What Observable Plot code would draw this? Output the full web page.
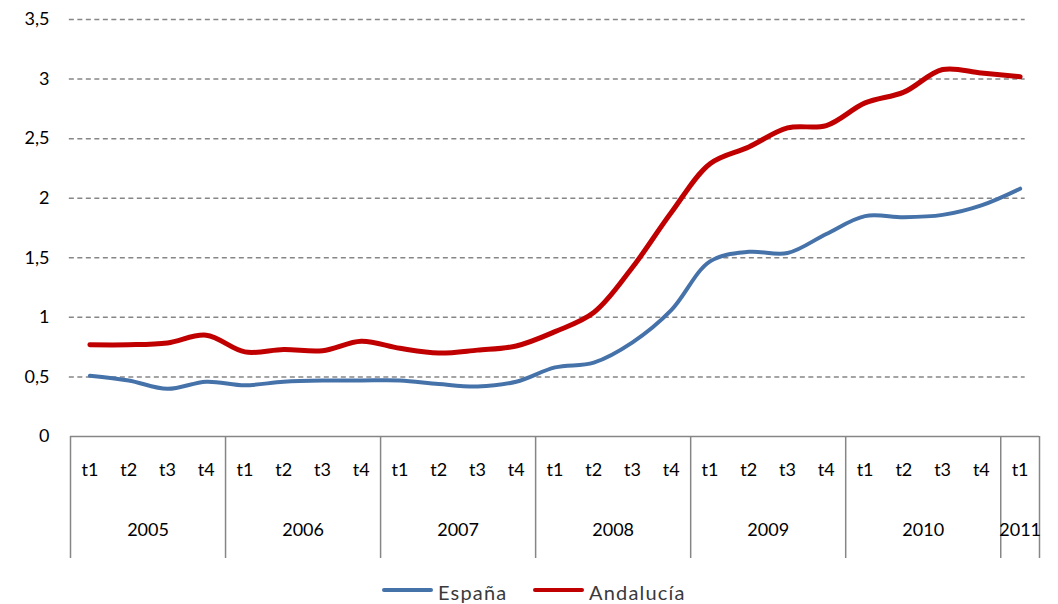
<!DOCTYPE html>
<html><head><meta charset="utf-8">
<script src="https://cdn.jsdelivr.net/npm/d3@7"></script>
<script src="https://cdn.jsdelivr.net/npm/@observablehq/plot@0.6"></script>
<style>
body{margin:0;background:#fff;font-family:Lato,"Open Sans",sans-serif;}
#wrap{position:relative;width:1058px;height:604px;overflow:hidden;}
#legend .item{position:absolute;top:580px;height:24px;display:flex;align-items:center;font-size:20px;letter-spacing:1.2px;color:#3a3a3a;font-family:Lato,"Open Sans",sans-serif;white-space:nowrap;}
#legend .sw{display:inline-block;width:51px;height:4.5px;margin-right:5px;border-radius:2px;position:relative;top:-2px;}
</style></head><body>
<div id="wrap"><div id="chart"></div><div id="legend"></div></div>
<script>
const quarters = ["t1","t2","t3","t4","t1","t2","t3","t4","t1","t2","t3","t4","t1","t2","t3","t4","t1","t2","t3","t4","t1","t2","t3","t4","t1"];
const years = ["2005","2006","2007","2008","2009","2010","2011"];
const yearSpans = [4,4,4,4,4,4,1];
const seriesNames = ["España","Andalucía"];
const seriesColors = ["#4672AA","#C00000"];
const espana = [0.51,0.47,0.40,0.46,0.43,0.46,0.47,0.47,0.47,0.44,0.42,0.46,0.58,0.62,0.79,1.06,1.47,1.55,1.54,1.70,1.85,1.84,1.86,1.94,2.08];
const andalucia = [0.77,0.77,0.785,0.85,0.71,0.73,0.72,0.80,0.74,0.70,0.725,0.76,0.88,1.04,1.42,1.88,2.29,2.43,2.59,2.61,2.80,2.89,3.08,3.05,3.02];
const yTicks = [0,0.5,1,1.5,2,2.5,3,3.5];

const rows = [];
quarters.forEach((q,i)=>{
  rows.push({i, series: seriesNames[0], value: espana[i]});
  rows.push({i, series: seriesNames[1], value: andalucia[i]});
});
const yearStarts = [];
let acc = 0;
yearSpans.forEach(s=>{ yearStarts.push(acc); acc += s; });
const yearCenters = yearStarts.map((s,k)=> s + (yearSpans[k]-1)/2);
const separators = yearStarts.map(s=> s - 0.5).concat([acc - 0.5]);
const n = quarters.length;
const fmt = d => String(d).replace(".", ",");
const sepBottom = -1.024;

const chart = Plot.plot({
  width: 1058, height: 570,
  marginLeft: 70, marginRight: 19, marginTop: 19, marginBottom: 134,
  x: {domain: [-0.5, n - 0.5], axis: null},
  y: {domain: [0, 3.5], ticks: yTicks, tickSize: 0, tickPadding: 21, tickFormat: fmt, label: null},
  style: {fontFamily: "Lato, 'Open Sans', sans-serif", fontSize: "18px", color: "#000", background: "#fff", overflow: "visible"},
  marks: [
    Plot.ruleY(yTicks.filter(t => t > 0), {x1: -0.53, x2: n - 0.87, stroke: "#868686", strokeWidth: 1.5, strokeDasharray: "5,3.5"}),
    Plot.ruleY([0], {x1: -0.5, x2: n - 0.5, stroke: "#868686", strokeWidth: 1.5}),
    Plot.ruleX(separators, {x: d => d, y1: 0, y2: sepBottom, stroke: "#868686", strokeWidth: 1.5, clip: false}),
    Plot.text(quarters, {x: (d,i) => i, y: () => 0, dy: 34, text: d => d, fill: "#000", fontSize: 18}),
    Plot.text(years, {x: (d,i) => yearCenters[i], y: () => 0, dy: 94, text: d => d, fill: "#000", fontSize: 18}),
    Plot.line(rows.filter(r => r.series === seriesNames[0]), {x: "i", y: "value", stroke: seriesColors[0], strokeWidth: 4, curve: "catmull-rom"}),
    Plot.line(rows.filter(r => r.series === seriesNames[1]), {x: "i", y: "value", stroke: seriesColors[1], strokeWidth: 5, curve: "catmull-rom"})
  ]
});
document.getElementById("chart").appendChild(chart);

const legend = document.getElementById("legend");
const legendLeft = [382, 533];
seriesNames.forEach((name,k)=>{
  const it = document.createElement("div");
  it.className = "item";
  it.style.left = legendLeft[k] + "px";
  const sw = document.createElement("span");
  sw.className = "sw";
  sw.style.background = seriesColors[k];
  it.appendChild(sw);
  const t = document.createElement("span");
  t.textContent = name;
  it.appendChild(t);
  legend.appendChild(it);
});
</script>
</body></html>
